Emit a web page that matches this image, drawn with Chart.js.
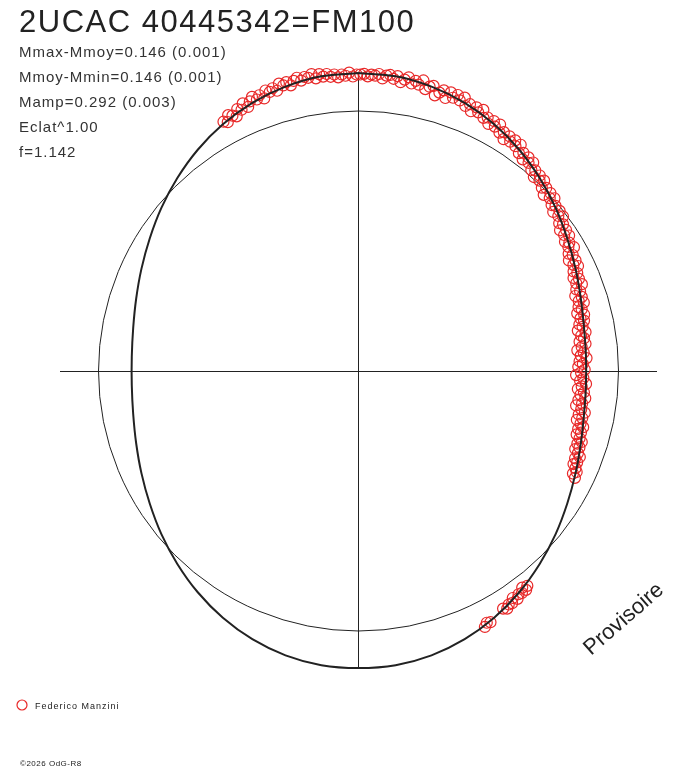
<!DOCTYPE html>
<html lang="fr">
<head>
<meta charset="UTF-8">
<title>2UCAC 40445342=FM100</title>
<script src="https://cdn.jsdelivr.net/npm/chart.js"></script>
<style>
  html, body { margin: 0; padding: 0; background: #fff; }
  canvas { display: block; }
</style>
</head>
<body>
<canvas id="courbe" width="688" height="768"></canvas>
<script>
// Textes du graphique
const titre = '2UCAC 40445342=FM100';
const infos = ['Mmax-Mmoy=0.146 (0.001)', 'Mmoy-Mmin=0.146 (0.001)', 'Mamp=0.292 (0.003)', 'Eclat^1.00', 'f=1.142'];
const observateur = 'Federico Manzini';
const copyright = '\u00A92026 OdG-R8';
const filigrane = 'Provisoire';

// Observations : phase (0..1) et ecart de magnitude a Mmoy
const obsPhase = [
  0.921,0.923,0.925,0.927,0.929,0.931,0.933,0.935,0.937,0.939,
  0.941,0.943,0.945,0.947,0.949,0.951,0.953,0.955,0.957,0.959,
  0.961,0.963,0.965,0.967,0.969,0.971,0.973,0.975,0.977,0.979,
  0.981,0.983,0.985,0.987,0.989,0.991,0.993,0.995,0.997,0.999,
  0.001,0.003,0.005,0.007,0.009,0.011,0.013,0.015,0.017,0.019,
  0.021,0.023,0.025,0.027,0.029,0.031,0.033,0.035,0.037,0.039,
  0.041,0.043,0.045,0.047,0.049,0.051,0.053,0.055,0.057,0.059,
  0.061,0.063,0.065,0.067,0.069,0.071,0.073,0.075,0.077,0.079,
  0.081,0.083,0.085,0.087,0.089,0.091,0.093,0.095,0.097,0.099,
  0.101,0.103,0.105,0.107,0.109,0.111,0.113,0.115,0.117,0.119,
  0.121,0.123,0.125,0.127,0.129,0.131,0.133,0.135,0.137,0.139,
  0.141,0.143,0.145,0.147,0.149,0.151,0.153,0.155,0.157,0.159,
  0.161,0.163,0.165,0.167,0.169,0.171,0.173,0.175,0.177,0.179,
  0.181,0.183,0.185,0.187,0.189,0.191,0.193,0.195,0.197,0.199,
  0.201,0.203,0.205,0.207,0.209,0.211,0.213,0.215,0.217,0.219,
  0.221,0.223,0.225,0.227,0.229,0.231,0.233,0.235,0.237,0.239,
  0.241,0.243,0.245,0.247,0.249,0.251,0.253,0.255,0.257,0.259,
  0.261,0.263,0.265,0.267,0.269,0.271,0.273,0.275,0.277,0.279,
  0.281,0.283,0.285,0.287,0.289,0.291,0.293,0.295,0.297,0.299,
  0.301,0.303,0.305,0.307,0.309,0.311,0.313,0.315,0.317,0.319,
  0.321,0.323,
  0.394,0.396,0.397,0.399,0.401,0.403,0.405,0.407,0.409,0.411,
  0.413,0.423,0.425,0.427
];
const obsDmag = [
  0.096,0.086,0.111,0.101,0.091,0.117,0.107,0.129,0.107,0.125,
  0.139,0.122,0.135,0.116,0.145,0.134,0.145,0.130,0.156,0.144,
  0.154,0.137,0.152,0.162,0.147,0.159,0.153,0.166,0.146,0.161,
  0.149,0.158,0.145,0.153,0.140,0.151,0.145,0.157,0.141,0.149,
  0.149,0.152,0.142,0.150,0.146,0.154,0.137,0.150,0.154,0.140,
  0.153,0.130,0.143,0.155,0.132,0.146,0.133,0.154,0.121,0.135,
  0.142,0.106,0.122,0.136,0.108,0.137,0.119,0.136,0.118,0.136,
  0.105,0.119,0.094,0.118,0.102,0.120,0.091,0.100,0.078,0.099,
  0.081,0.099,0.069,0.080,0.055,0.078,0.061,0.077,0.058,0.075,
  0.043,0.055,0.032,0.053,0.036,0.049,0.021,0.030,0.006,0.027,
  0.011,0.024,-0.003,0.009,-0.018,0.007,-0.009,0.005,-0.022,-0.012,
  -0.035,-0.012,-0.029,-0.015,-0.044,-0.034,-0.058,-0.037,-0.055,-0.039,
  -0.067,-0.054,-0.066,-0.047,-0.079,-0.067,-0.091,-0.067,-0.083,-0.068,
  -0.094,-0.083,-0.105,-0.086,-0.103,-0.083,-0.112,-0.100,-0.125,-0.101,
  -0.118,-0.100,-0.126,-0.116,-0.138,-0.112,-0.130,-0.118,-0.140,-0.129,
  -0.151,-0.121,-0.141,-0.131,-0.151,-0.128,-0.145,-0.164,-0.139,-0.152,
  -0.129,-0.158,-0.145,-0.164,-0.138,-0.153,-0.173,-0.143,-0.156,-0.131,
  -0.148,-0.163,-0.137,-0.150,-0.129,-0.156,-0.139,-0.162,-0.139,-0.122,
  -0.145,-0.128,-0.148,-0.130,-0.116,-0.134,-0.119,-0.134,-0.118,-0.105,
  -0.120,-0.107,-0.121,-0.105,-0.092,-0.108,-0.094,-0.105,-0.091,-0.080,
  -0.091,-0.076,
  0.054,0.064,0.047,0.064,0.060,0.073,0.059,0.075,0.072,0.083,
  0.074,0.097,0.092,0.104
];

// Courbe ajustee (phase, ecart de magnitude)
const modelePhase = [
  0.00,0.02,0.04,0.06,0.08,0.10,0.12,0.14,0.16,0.18,
  0.20,0.22,0.24,0.26,0.28,0.30,0.32,0.34,0.36,0.38,
  0.40,0.42,0.44,0.46,0.48,0.50,0.52,0.54,0.56,0.58,
  0.60,0.62,0.64,0.66,0.68,0.70,0.72,0.74,0.76,0.78,
  0.80,0.82,0.84,0.86,0.88,0.90,0.92,0.94,0.96,0.98,1.00
];
const modeleDmag = [
  0.155,0.151,0.137,0.116,0.088,0.055,0.019,-0.017,-0.052,-0.082,
  -0.107,-0.124,-0.131,-0.131,-0.124,-0.107,-0.082,-0.052,-0.017,0.019,
  0.055,0.088,0.116,0.137,0.149,0.151,0.149,0.137,0.116,0.088,
  0.055,0.019,-0.017,-0.052,-0.082,-0.107,-0.125,-0.134,-0.134,-0.125,
  -0.107,-0.082,-0.052,-0.017,0.019,0.055,0.088,0.116,0.137,0.151,0.155
];

const R0 = 260;  // rayon du cercle Mmoy
const K = 245;   // echelle radiale par magnitude

// phase 0 en haut, sens horaire
function polaire(phase, dmag) {
  const r = R0 + K * dmag;
  const a = 2 * Math.PI * phase;
  return { x: r * Math.sin(a), y: r * Math.cos(a) };
}

const obsPts = obsPhase.map((p, i) => polaire(p, obsDmag[i]));
const modelePts = modelePhase.map((p, i) => polaire(p, modeleDmag[i]));

const police = '"Liberation Sans", Arial, sans-serif';
const rouge = 'rgb(232,40,40)';

// Cercle de reference (Mmoy)
const cercle = {
  id: 'cercle',
  beforeDatasetsDraw(chart) {
    const { ctx, scales: { x, y } } = chart;
    const cx = x.getPixelForValue(0);
    const cy = y.getPixelForValue(0);
    const r = x.getPixelForValue(R0) - cx;
    ctx.save();
    ctx.strokeStyle = '#222';
    ctx.lineWidth = 1;
    ctx.beginPath();
    ctx.arc(cx, cy, r, 0, 2 * Math.PI);
    ctx.stroke();
    ctx.restore();
  }
};

// Titre, infos, legende, filigrane
const textes = {
  id: 'textes',
  afterDraw(chart) {
    const ctx = chart.ctx;
    ctx.save();
    ctx.fillStyle = '#222';
    ctx.textBaseline = 'alphabetic';

    ctx.font = '31px ' + police;
    ctx.letterSpacing = '1.5px';
    ctx.fillText(titre, 19, 32);

    ctx.fillStyle = '#333';
    ctx.font = '15px ' + police;
    ctx.letterSpacing = '1px';
    infos.forEach((t, i) => ctx.fillText(t, 19, 57 + i * 25));

    // legende
    ctx.strokeStyle = rouge;
    ctx.lineWidth = 1.2;
    ctx.beginPath();
    ctx.arc(22, 705, 5, 0, 2 * Math.PI);
    ctx.stroke();
    ctx.fillStyle = '#222';
    ctx.font = '9px ' + police;
    ctx.letterSpacing = '1px';
    ctx.fillText(chart.data.datasets[1].label, 35, 709);

    ctx.font = '8px ' + police;
    ctx.letterSpacing = '0.5px';
    ctx.fillText(copyright, 20, 766);

    ctx.translate(591, 656);
    ctx.rotate(-41 * Math.PI / 180);
    ctx.font = '22px ' + police;
    ctx.letterSpacing = '0px';
    ctx.fillText(filigrane, 0, 0);
    ctx.restore();
  }
};

const axe = (demi) => ({
  type: 'linear',
  min: -demi,
  max: demi,
  afterBuildTicks: ax => { ax.ticks = [{ value: 0 }]; },
  ticks: { display: false },
  grid: { drawTicks: false, color: '#222', lineWidth: 1 },
  border: { display: false }
});

new Chart(document.getElementById('courbe'), {
  type: 'scatter',
  data: {
    datasets: [
      {
        label: 'modele',
        data: modelePts,
        showLine: true,
        borderColor: '#222',
        borderWidth: 2,
        pointRadius: 0,
        tension: 0.35,
        clip: false
      },
      {
        label: observateur,
        data: obsPts,
        borderColor: rouge,
        backgroundColor: 'rgba(0,0,0,0)',
        borderWidth: 1.2,
        pointRadius: 5.5,
        pointStyle: 'circle',
        clip: false
      }
    ]
  },
  options: {
    responsive: false,
    animation: false,
    devicePixelRatio: 1,
    events: [],
    layout: { padding: { left: 60, right: 31, top: 73, bottom: 99 }, autoPadding: false },
    plugins: { legend: { display: false }, title: { display: false }, tooltip: { enabled: false } },
    scales: { x: axe(298.5), y: axe(298) }
  },
  plugins: [cercle, textes]
});
</script>
</body>
</html>
